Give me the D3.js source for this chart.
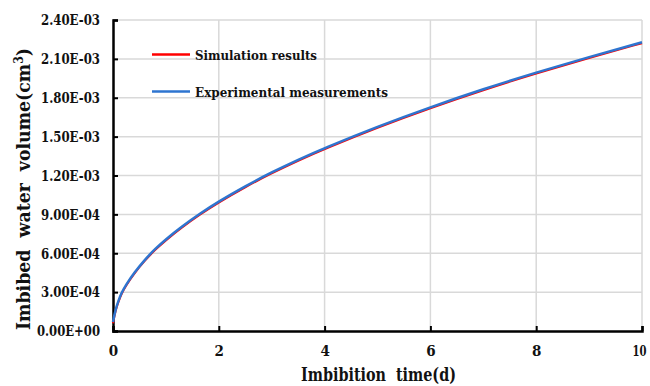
<!DOCTYPE html>
<html lang="en">
<head>
  <meta charset="utf-8">
  <title></title>
  <script src="https://d3js.org/d3.v7.min.js"></script>
</head>
<style>
body { margin: 0; background: white; }
svg text { font-family: "DejaVu Serif", serif; font-weight: bold; font-stretch: condensed; fill: #111; }
.grid line { stroke: #d9d9d9; stroke-width: 1.5px; }
</style>
<body>
  <div class="chart"></div>

  <script type="text/javascript">
  // time (d)
  var times = [0, 0.05, 0.1, 0.16, 0.25, 0.4, 0.6, 0.8, 1, 1.3, 1.64, 2, 2.5, 3, 3.5, 4, 5, 6, 7, 8, 9, 10];
  // imbibed water volume (cm3)
  var experimental = [7.0e-5, 1.7e-4, 2.3e-4, 2.95e-4, 3.6e-4, 4.5e-4, 5.5e-4, 6.35e-4, 7.08e-4, 8.06e-4, 9.05e-4,
    1.0e-3, 1.118e-3, 1.225e-3, 1.322e-3, 1.412e-3, 1.578e-3, 1.728e-3, 1.867e-3, 1.995e-3, 2.115e-3, 2.228e-3];
  var simulation = [6.0e-5, 1.62e-4, 2.22e-4, 2.88e-4, 3.53e-4, 4.43e-4, 5.43e-4, 6.28e-4, 7.01e-4, 7.99e-4, 8.98e-4,
    9.93e-4, 1.111e-3, 1.218e-3, 1.315e-3, 1.405e-3, 1.571e-3, 1.721e-3, 1.86e-3, 1.988e-3, 2.108e-3, 2.221e-3];
  var xTicks = [0, 2, 4, 6, 8, 10];
  var yTicks = [0, 3e-4, 6e-4, 9e-4, 1.2e-3, 1.5e-3, 1.8e-3, 2.1e-3, 2.4e-3];
  var yTickLabels = ["0.00E+00", "3.00E-04", "6.00E-04", "9.00E-04", "1.20E-03", "1.50E-03", "1.80E-03", "2.10E-03", "2.40E-03"];
  var seriesNames = ["Simulation results", "Experimental measurements"];
  var seriesColors = ["#ff0000", "#2e75d0"];

  var width = 650, height = 386;
  var margin = {top: 20, right: 8, bottom: 55, left: 113};

  var svg = d3.select(".chart").append("svg")
    .attr("width", width)
    .attr("height", height);

  var x = d3.scaleLinear().domain([0, 10]).range([margin.left, width - margin.right]);
  var y = d3.scaleLinear().domain([0, 2.4e-3]).range([height - margin.bottom, margin.top]);

  // grid
  var grid = svg.append("g").attr("class", "grid");
  grid.selectAll(".hg").data(yTicks.slice(1)).enter().append("line")
    .attr("x1", x(0)).attr("x2", x(10))
    .attr("y1", function(d){ return y(d); }).attr("y2", function(d){ return y(d); });
  grid.selectAll(".vg").data(xTicks.slice(1)).enter().append("line")
    .attr("x1", function(d){ return x(d); }).attr("x2", function(d){ return x(d); })
    .attr("y1", y(0)).attr("y2", y(2.4e-3));

  // axes
  var xAxis = d3.axisBottom(x).tickValues(xTicks).tickSize(-5).tickPadding(14).tickFormat(d3.format("d"));
  var yAxis = d3.axisLeft(y).tickValues(yTicks).tickSize(-5).tickPadding(13)
    .tickFormat(function(d, i){ return yTickLabels[i]; });

  var gx = svg.append("g").attr("transform", "translate(0," + y(0) + ")").call(xAxis);
  var gy = svg.append("g").attr("transform", "translate(" + x(0) + ",0)").call(yAxis);
  [gx, gy].forEach(function(g){
    g.attr("font-family", null).attr("font-size", null);
    g.select(".domain").attr("stroke", "#000").attr("stroke-width", 2.5);
    g.selectAll(".tick line").attr("stroke", "#000").attr("stroke-width", 2);
    g.selectAll(".tick text").style("font-size", "15px");
  });
  gx.selectAll(".tick text").attr("dy", "0.71em");
  // last label sits against the right edge, squeeze it a little
  gx.selectAll(".tick text").filter(function(d){ return d === 10; })
    .attr("text-anchor", "end").attr("x", 4)
    .attr("textLength", 14).attr("lengthAdjust", "spacingAndGlyphs");
  gy.selectAll(".tick text")
    .attr("textLength", function(d, i){ return i === 0 ? 63 : 59; })
    .attr("lengthAdjust", "spacingAndGlyphs");

  // lines
  var line = d3.line()
    .x(function(d){ return x(d[0]); })
    .y(function(d){ return y(d[1]); })
    .curve(d3.curveBasis);

  svg.append("path")
    .datum(times.map(function(t, i){ return [t, simulation[i]]; }))
    .attr("fill", "none").attr("stroke", seriesColors[0]).attr("stroke-width", 2)
    .attr("d", line);
  svg.append("path")
    .datum(times.map(function(t, i){ return [t, experimental[i]]; }))
    .attr("fill", "none").attr("stroke", seriesColors[1]).attr("stroke-width", 2.5)
    .attr("d", line);

  // legend
  var legendWidths = [122, 193];
  var legend = svg.selectAll(".legend").data(seriesNames).enter().append("g")
    .attr("transform", function(d, i){ return "translate(152," + (54.5 + i * 37) + ")"; });
  legend.append("line")
    .attr("x1", 0).attr("x2", 38).attr("y1", 0).attr("y2", 0)
    .attr("stroke", function(d, i){ return seriesColors[i]; })
    .attr("stroke-width", 2.5);
  legend.append("text")
    .attr("x", 43).attr("y", 5)
    .attr("textLength", function(d, i){ return legendWidths[i]; })
    .attr("lengthAdjust", "spacingAndGlyphs")
    .style("font-size", "13.5px")
    .text(function(d){ return d; });

  // axis titles
  svg.append("text")
    .attr("x", 301).attr("y", 381)
    .attr("textLength", 155).attr("lengthAdjust", "spacingAndGlyphs")
    .style("font-size", "19px")
    .style("white-space", "pre")
    .text("Imbibition  time(d)");

  var yt = svg.append("text")
    .attr("transform", "translate(30,330) rotate(-90)")
    .attr("textLength", 282).attr("lengthAdjust", "spacingAndGlyphs")
    .style("font-size", "19px")
    .style("white-space", "pre");
  yt.append("tspan").text("Imbibed  water  volume(cm");
  yt.append("tspan").attr("baseline-shift", "super").style("font-size", "12px").text("3");
  yt.append("tspan").text(")");
  </script>
</body>
</html>
